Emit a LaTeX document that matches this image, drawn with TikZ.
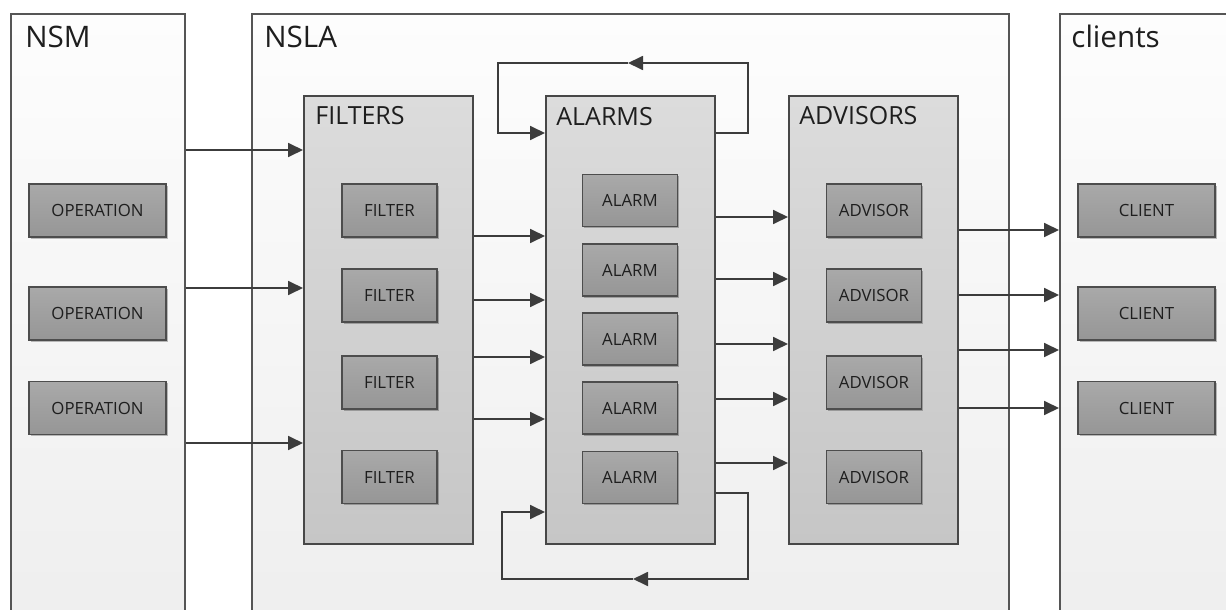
\documentclass[tikz,border=0pt]{standalone}
\usepackage{fontspec}
\setmainfont{Open Sans}
\usetikzlibrary{arrows.meta,shadows}
\definecolor{contline}{HTML}{555555}
\definecolor{conttop}{HTML}{FDFDFD}
\definecolor{contbot}{HTML}{EEEEEE}
\definecolor{grpline}{HTML}{474747}
\definecolor{grptop}{HTML}{DCDCDC}
\definecolor{grpbot}{HTML}{C6C6C6}
\definecolor{itemline}{HTML}{4D4D4D}
\definecolor{itemtop}{HTML}{A9A9A9}
\definecolor{itembot}{HTML}{969696}
\definecolor{txt}{HTML}{1E1E1E}
\definecolor{conncol}{HTML}{3C3C3C}
\begin{document}
\begin{tikzpicture}[x=0.5pt,y=-0.5pt,
  wrap/.style={draw=contline, line width=0.85pt, top color=conttop, bottom color=contbot,
    inner sep=0pt, anchor=north west, minimum height=310pt},
  grp/.style={draw=grpline, line width=0.85pt, top color=grptop, bottom color=grpbot,
    inner sep=0pt, anchor=north west, minimum width=84.5pt, minimum height=224pt,
    drop shadow={shadow xshift=0.8pt, shadow yshift=-0.8pt, opacity=0.25, fill=black}},
  item/.style={draw=itemline, line width=0.75pt, top color=itemtop, bottom color=itembot,
    minimum height=26.5pt, inner sep=0pt, font=\fontsize{8.4pt}{10pt}\selectfont, text=txt,
    drop shadow={shadow xshift=0.8pt, shadow yshift=-0.8pt, opacity=0.25, fill=black}},
  wide/.style={item, minimum width=68.5pt},
  narrow/.style={item, minimum width=47.5pt},
  bigtitle/.style={anchor=base west, inner sep=0pt, text=txt, font=\fontsize{14.8pt}{17pt}\selectfont},
  grptitle/.style={anchor=base west, inner sep=0pt, text=txt, font=\fontsize{12.5pt}{15pt}\selectfont},
  conn/.style={draw=conncol, line width=0.9pt},
  arr/.style={conn, -{Triangle[length=7.5pt,width=7pt]}}
]
\useasboundingbox (0,0) rectangle (1226,610);
\fill[white] (0,0) rectangle (1226,610);

% containers
\node[wrap, minimum width=87pt] (nsm) at (10,13) {};
\node[wrap, minimum width=378.5pt] (nsla) at (251,13) {};
\node[wrap, minimum width=100pt] (cli) at (1059,13) {};
\node[bigtitle] (nsmT) at (25,48) {NSM};
\node[bigtitle] (nslaT) at (264,48) {NSLA};
\node[bigtitle] (cliT) at (1071,48) {clients};

% groups
\node[grp] (fil) at (303,95) {};
\node[grp] (alm) at (545,95) {};
\node[grp] (adv) at (788,95) {};
\node[grptitle] (filT) at (315,125) {FILTERS};
\node[grptitle] (almT) at (556,126) {ALARMS};
\node[grptitle] (advT) at (799,125) {ADVISORS};

% operations
\node[wide] (op1) at (97.5,210.5) {OPERATION};
\node[wide] (op2) at (97.5,313.5) {OPERATION};
\node[wide] (op3) at (97.5,408) {OPERATION};
% clients
\node[wide] (cl1) at (1146.5,210.5) {CLIENT};
\node[wide] (cl2) at (1146.5,313.5) {CLIENT};
\node[wide] (cl3) at (1146.5,408) {CLIENT};
% filters
\node[narrow] (f1) at (389.5,210.5) {FILTER};
\node[narrow] (f2) at (389.5,295.5) {FILTER};
\node[narrow] (f3) at (389.5,382.5) {FILTER};
\node[narrow] (f4) at (389.5,477) {FILTER};
% alarms
\node[narrow, minimum height=26pt] (a1) at (630,200.5) {ALARM};
\node[narrow, minimum height=26pt] (a2) at (630,270) {ALARM};
\node[narrow, minimum height=26pt] (a3) at (630,339) {ALARM};
\node[narrow, minimum height=26pt] (a4) at (630,408) {ALARM};
\node[narrow, minimum height=26pt] (a5) at (630,477.5) {ALARM};
% advisors
\node[narrow] (v1) at (874,210.5) {ADVISOR};
\node[narrow] (v2) at (874,295.5) {ADVISOR};
\node[narrow] (v3) at (874,382.5) {ADVISOR};
\node[narrow] (v4) at (874,477) {ADVISOR};

% NSM -> FILTERS
\foreach \yy in {150,288,443}
  \draw[arr] (nsm.east |- 0,\yy) -- (fil.west |- 0,\yy);
% FILTERS -> ALARMS
\foreach \yy in {236,300,357,419}
  \draw[arr] (fil.east |- 0,\yy) -- (alm.west |- 0,\yy);
% ALARMS -> ADVISORS
\foreach \yy in {217,279,344,399,463}
  \draw[arr] (alm.east |- 0,\yy) -- (adv.west |- 0,\yy);
% ADVISORS -> clients
\foreach \yy in {230,295,350,408}
  \draw[arr] (adv.east |- 0,\yy) -- (cli.west |- 0,\yy);

% feedback loop top
\coordinate (tr) at (748,63);
\coordinate (tm) at (628,63);
\coordinate (tl) at (498,63);
\draw[arr] (alm.east |- 0,133) -| (tr) -- (tm);
\draw[arr] (tm) -- (tl) |- (alm.west |- 0,133);
% feedback loop bottom
\coordinate (br) at (748,579);
\coordinate (bm) at (633,579);
\coordinate (bl) at (502,579);
\draw[arr] (alm.east |- 0,493) -| (br) -- (bm);
\draw[arr] (bm) -- (bl) |- (alm.west |- 0,512);
\end{tikzpicture}
\end{document}
